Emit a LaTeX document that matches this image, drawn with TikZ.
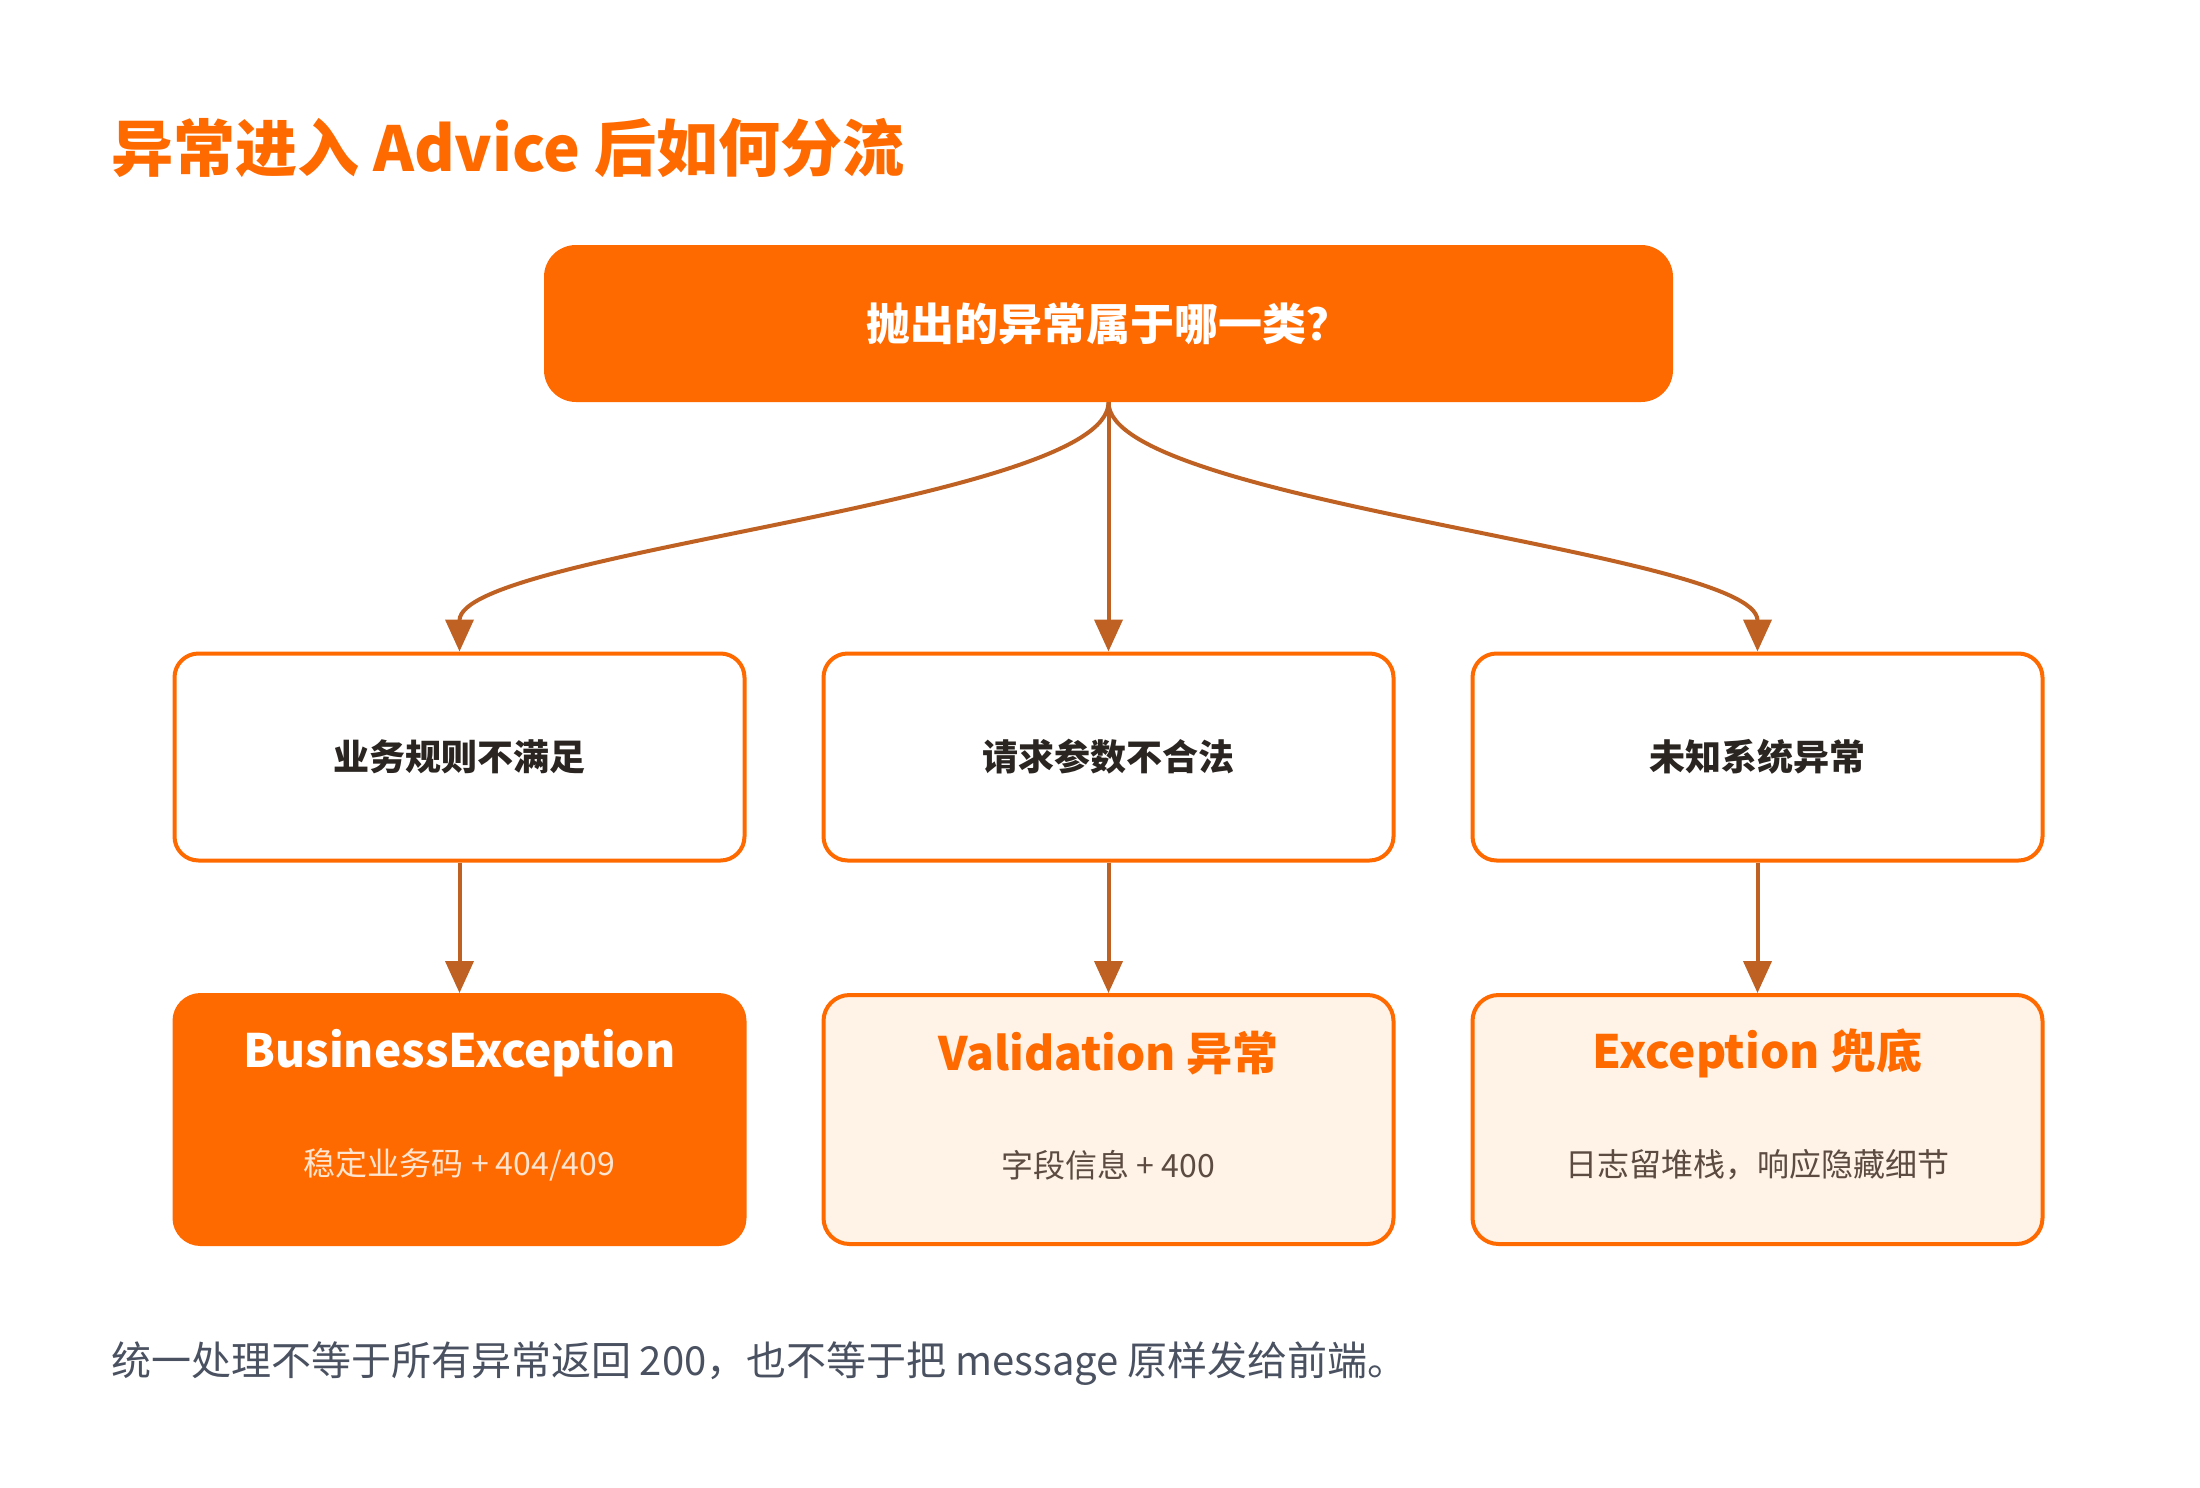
\documentclass[tikz,border=0pt]{standalone}
\usepackage{fontspec}
\setmainfont{Noto Sans CJK SC}
\usetikzlibrary{arrows.meta}
\definecolor{flowOrange}{HTML}{FF6A00}
\definecolor{linkBrown}{HTML}{BF6122}
\definecolor{softCream}{HTML}{FFF3E8}
\definecolor{inkDark}{HTML}{2A2520}
\definecolor{noteGrey}{HTML}{4A5160}
\definecolor{subBrown}{HTML}{5C4B40}
\definecolor{subLight}{HTML}{FFE4CF}
\begin{document}
\begin{tikzpicture}[x=0.5pt,y=-0.5pt,node distance=324.5pt,
				link/.style = {draw=linkBrown, line width=2pt, -{Triangle[length=16pt,width=14pt]}},
				top node/.style = {rectangle, rounded corners=16pt, fill=flowOrange, text=white,
					minimum width=564.5pt, minimum height=78.5pt, font=\bfseries\fontsize{22}{26}\selectfont},
				mid node/.style = {rectangle, rounded corners=12pt, draw=flowOrange, line width=2pt, fill=white,
					text=inkDark, minimum width=285pt, minimum height=103.5pt, font=\bfseries\fontsize{18}{22}\selectfont},
				bot node/.style = {rectangle, rounded corners=13pt, draw=flowOrange, line width=2pt,
					minimum width=285pt, minimum height=124.5pt},
				bot title/.style = {font=\bfseries\fontsize{23}{28}\selectfont},
				bot sub/.style = {font=\fontsize{16}{20}\selectfont}]
				
				\fill[white] (0,0) rectangle (2200,1488);
				\useasboundingbox (0,0) rectangle (2200,1488);
				
				\node[anchor=west, text=flowOrange, font=\bfseries\fontsize{31}{36}\selectfont] (title) at (104,148) {异常进入 Advice 后如何分流};
				
				\node[top node] (q) at (1108.5,323.5) {抛出的异常属于哪一类？};
				
				\node[mid node] (1) at (459.5,757) {业务规则不满足};
				\node[mid node] [right of = 1](2) {请求参数不合法};
				\node[mid node] [right of = 2](3) {未知系统异常};
				
				\node[bot node,fill=flowOrange] [below of = 1, node distance=181.25pt](4) {};
				\node[bot node,fill=softCream] [right of = 4](5) {};
				\node[bot node,fill=softCream] [right of = 5](6) {};
				
				\node[bot title,text=white] (4t) at ([yshift=-30pt]4.north) {BusinessException};
				\node[bot sub,text=subLight] (4s) at ([yshift=-86pt]4.north) {稳定业务码 + 404/409};
				\node[bot title,text=flowOrange] (5t) at ([yshift=-30pt]5.north) {Validation 异常};
				\node[bot sub,text=subBrown] (5s) at ([yshift=-86pt]5.north) {字段信息 + 400};
				\node[bot title,text=flowOrange] (6t) at ([yshift=-30pt]6.north) {Exception 兜底};
				\node[bot sub,text=subBrown] (6s) at ([yshift=-86pt]6.north) {日志留堆栈，响应隐藏细节};
				
				\node[anchor=west, text=noteGrey, font=\fontsize{20}{24}\selectfont] (note) at (104,1364)
					{统一处理不等于所有异常返回 200，也不等于把 message 原样发给前端。};
				
				\draw[link] (q.south) .. controls +(0,100) and +(0,-100) .. (1.north);
				\draw[link] (q.south) -- (2.north);
				\draw[link] (q.south) .. controls +(0,100) and +(0,-100) .. (3.north);
				\draw[link] (1) -- (4);
				\draw[link] (2) -- (5);
				\draw[link] (3) -- (6);
\end{tikzpicture}
\end{document}
